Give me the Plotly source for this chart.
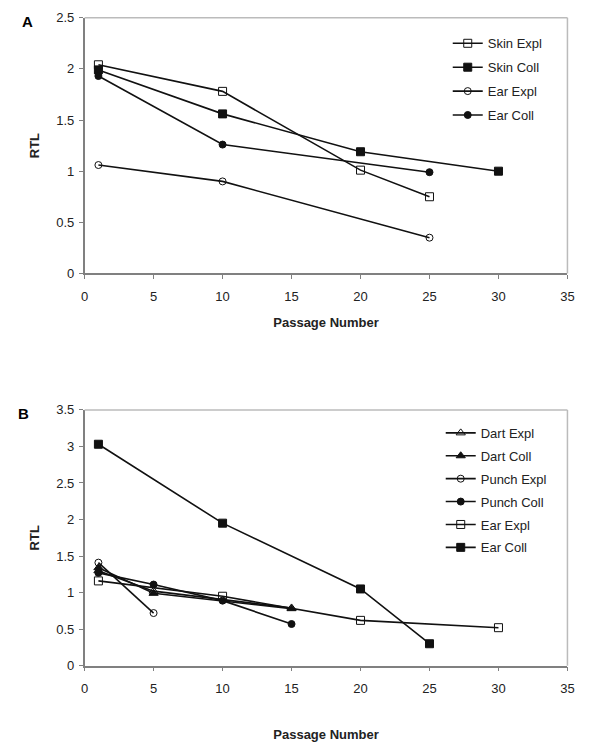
import plotly.graph_objects as go

# Panel A data
a_skin_expl_x = [1, 10, 20, 25]
a_skin_expl_y = [2.04, 1.78, 1.01, 0.75]
a_skin_coll_x = [1, 10, 20, 30]
a_skin_coll_y = [1.99, 1.56, 1.19, 1.00]
a_ear_expl_x = [1, 10, 25]
a_ear_expl_y = [1.06, 0.90, 0.35]
a_ear_coll_x = [1, 10, 25]
a_ear_coll_y = [1.93, 1.26, 0.99]

# Panel B data
b_dart_expl_x = [1, 5, 15]
b_dart_expl_y = [1.30, 1.02, 0.79]
b_dart_coll_x = [1, 5, 15]
b_dart_coll_y = [1.34, 0.99, 0.78]
b_punch_expl_x = [1, 5]
b_punch_expl_y = [1.41, 0.72]
b_punch_coll_x = [1, 5, 10, 15]
b_punch_coll_y = [1.27, 1.11, 0.89, 0.57]
b_ear_expl_x = [1, 10, 20, 30]
b_ear_expl_y = [1.16, 0.95, 0.62, 0.52]
b_ear_coll_x = [1, 10, 20, 25]
b_ear_coll_y = [3.03, 1.95, 1.05, 0.30]

x_ticks = [0, 5, 10, 15, 20, 25, 30, 35]

W = 600.0
H = 749.0


def px(r):
    # screen x -> paper x
    return ((r - 11) / 0.98) / W


def py(r):
    # screen y -> paper y
    return 1 - ((r - 16.3) / 0.977) / H


fig = go.Figure()


def add(name, x, y, symbol, xa, ya, legend, size=7):
    fig.add_trace(go.Scatter(
        x=x, y=y, name=name, mode="lines+markers",
        line=dict(color="#111", width=1.6),
        marker=dict(symbol=symbol, size=size, color="#111",
                    line=dict(color="#111", width=1)),
        xaxis=xa, yaxis=ya, legend=legend, legendgroup=name,
    ))


add("Skin Expl", a_skin_expl_x, a_skin_expl_y, "square-open", "x", "y", "legend", 8)
add("Skin Coll", a_skin_coll_x, a_skin_coll_y, "square", "x", "y", "legend", 8)
add("Ear Expl", a_ear_expl_x, a_ear_expl_y, "circle-open", "x", "y", "legend", 7)
add("Ear Coll", a_ear_coll_x, a_ear_coll_y, "circle", "x", "y", "legend", 7)

add("Dart Expl", b_dart_expl_x, b_dart_expl_y, "triangle-up-open", "x2", "y2", "legend2", 8)
add("Dart Coll", b_dart_coll_x, b_dart_coll_y, "triangle-up", "x2", "y2", "legend2", 8)
add("Punch Expl", b_punch_expl_x, b_punch_expl_y, "circle-open", "x2", "y2", "legend2", 7)
add("Punch Coll", b_punch_coll_x, b_punch_coll_y, "circle", "x2", "y2", "legend2", 7)
add("Ear Expl", b_ear_expl_x, b_ear_expl_y, "square-open", "x2", "y2", "legend2", 8)
add("Ear Coll", b_ear_coll_x, b_ear_coll_y, "square", "x2", "y2", "legend2", 8)

xdom = [px(83.5), px(565.5)]
ydomA = [py(274), py(19)]
ydomB = [py(665), py(410)]

font = dict(family="Liberation Sans, Arial, sans-serif", size=13, color="#222")
axis_common = dict(
    showline=True, linecolor="#808080", linewidth=1.5, mirror=False,
    ticks="outside", ticklen=4, tickcolor="#808080", tickwidth=1,
    showgrid=False, zeroline=False, tickfont=font,
)

xa = dict(axis_common, range=[0, 35], tickvals=x_ticks, ticklabelstandoff=6)

fig.update_layout(
    width=600, height=749,
    margin=dict(l=0, r=0, t=0, b=0),
    paper_bgcolor="white", plot_bgcolor="white",
    font=font,
    xaxis=dict(xa, domain=xdom, anchor="y",
               title=dict(text="<b>Passage Number</b>", font=font, standoff=15)),
    xaxis2=dict(xa, domain=xdom, anchor="y2",
                title=dict(text="<b>Passage Number</b>", font=font, standoff=35)),
    yaxis=dict(axis_common, domain=ydomA, range=[0, 2.5], dtick=0.5, anchor="x",
               tickformat="~g", ticklabelstandoff=2,
               title=dict(text="<b>RTL</b>", font=font, standoff=14)),
    yaxis2=dict(axis_common, domain=ydomB, range=[0, 3.5], dtick=0.5, anchor="x2",
                tickformat="~g", ticklabelstandoff=2,
                title=dict(text="<b>RTL</b>", font=font, standoff=14)),
    legend=dict(x=px(446), y=py(29.6), xanchor="left", yanchor="top",
                bgcolor="rgba(0,0,0,0)", font=font, tracegroupgap=4,
                itemwidth=30),
    legend2=dict(x=px(439), y=py(418), xanchor="left", yanchor="top",
                 bgcolor="rgba(0,0,0,0)", font=font, tracegroupgap=3,
                 itemwidth=30),
    showlegend=True,
)

# plot area borders (top/right light gray)
for xr, yr in (("x domain", "y domain"), ("x2 domain", "y2 domain")):
    fig.add_shape(type="line", xref=xr, yref=yr, x0=0, x1=1, y0=1, y1=1,
                  line=dict(color="#bbb", width=1.5))
    fig.add_shape(type="line", xref=xr, yref=yr, x0=1, x1=1, y0=0, y1=1,
                  line=dict(color="#bbb", width=1.5))

fig.add_annotation(text="<b>A</b>", x=px(26), y=py(23), xref="paper", yref="paper",
                   xanchor="center", yanchor="middle", showarrow=False,
                   font=dict(family="Liberation Sans, Arial", size=15, color="black"))
fig.add_annotation(text="<b>B</b>", x=px(22), y=py(414), xref="paper", yref="paper",
                   xanchor="center", yanchor="middle", showarrow=False,
                   font=dict(family="Liberation Sans, Arial", size=15, color="black"))

fig.write_html("out.html")
